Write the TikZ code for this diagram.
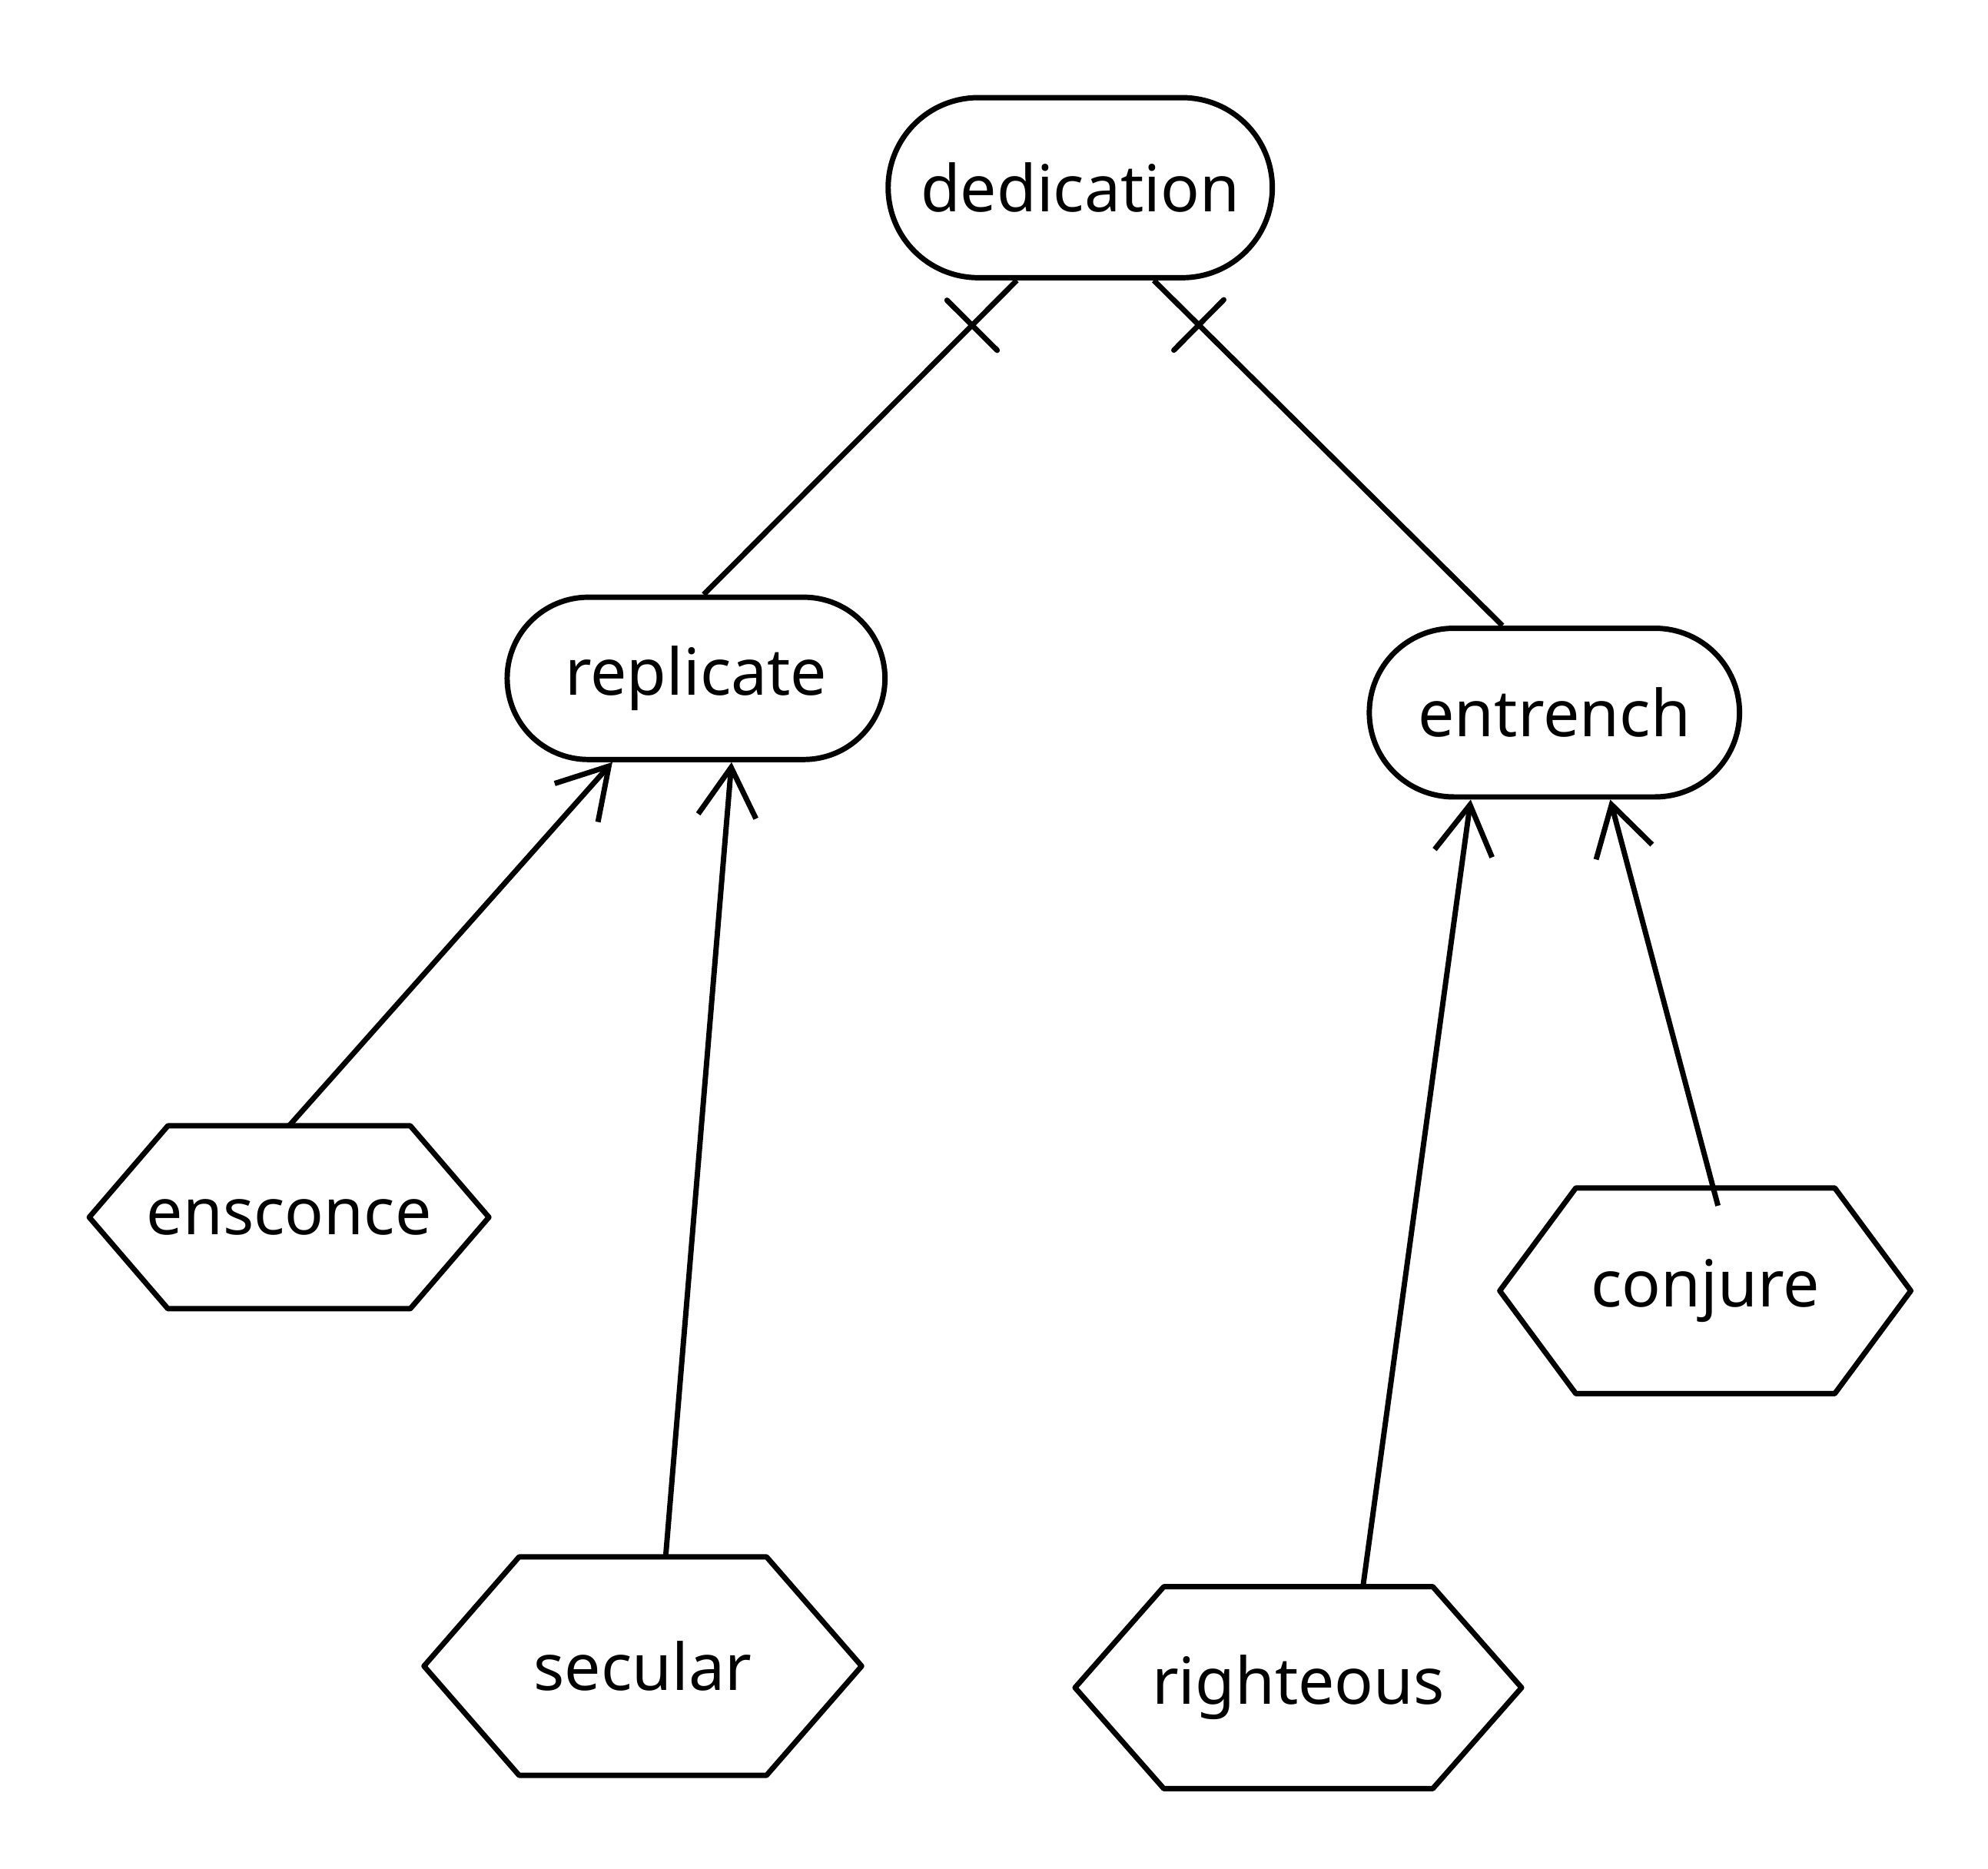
\documentclass[tikz,border=0pt]{standalone}
\usepackage{fontspec}
\setmainfont{Noto Sans}
\usetikzlibrary{shapes.misc,arrows.meta,calc}
\newcommand\hexdraw[2]{%
  \draw (#1.west) -- ([xshift=#2]#1.north west) -- ([xshift=-#2]#1.north east)
    -- (#1.east) -- ([xshift=-#2]#1.south east) -- ([xshift=#2]#1.south west) -- cycle;}
\begin{document}
\begin{tikzpicture}[line width=1.2pt, line join=round,
  lbl/.style={font=\fontsize{14.5}{17}\selectfont},
  rr/.style={rounded rectangle, draw, inner sep=0pt, lbl},
  hexa/.style={rectangle, inner sep=0pt, lbl},
  arr/.style={-{Straight Barb[length=11pt,width=13pt]}},
  tee/.style={line cap=round}]
\useasboundingbox (0,0) rectangle (15.68,-14.74);

\node[rr, minimum width=3.03cm, minimum height=1.42cm] (ded) at (8.52,-1.48) {dedication};
\node[rr, minimum width=2.98cm, minimum height=1.28cm] (rep) at (5.49,-5.35) {replicate};
\node[rr, minimum width=2.92cm, minimum height=1.33cm] (ent) at (12.26,-5.62) {entrench};

\node[hexa, minimum width=3.11cm, minimum height=1.40cm] (ens) at (2.28,-9.60) {ensconce};
\node[hexa, minimum width=3.41cm, minimum height=1.68cm] (sec) at (5.07,-13.14) {secular};
\node[hexa, minimum width=3.48cm, minimum height=1.55cm] (rig) at (10.24,-13.31) {righteous};
\node[hexa, minimum width=3.20cm, minimum height=1.58cm] (con) at (13.45,-10.18) {conjure};
\hexdraw{ens}{0.62cm}
\hexdraw{sec}{0.75cm}
\hexdraw{rig}{0.70cm}
\hexdraw{con}{0.60cm}

\draw[arr] (ens.north) -- ([xshift=-0.66cm]rep.south);
\draw[arr] ([xshift=0.18cm]sec.north) -- ([xshift=0.28cm]rep.south);
\draw[arr] ([xshift=0.51cm]rig.north) -- ([xshift=-0.66cm]ent.south);
\draw[arr] ([xshift=0.1cm,yshift=-0.14cm]con.north) -- ([xshift=0.44cm]ent.south);

\draw ([xshift=0.06cm]rep.north) coordinate (a1) -- ([xshift=-0.5cm]ded.south) coordinate (b1);
\coordinate (m1) at ($(b1)!0.5cm!(a1)$);
\draw[tee] ($(m1)!0.28cm!90:(b1)$) -- ($(m1)!0.28cm!-90:(b1)$);

\draw ([xshift=-0.41cm]ent.north) coordinate (a2) -- ([xshift=0.58cm]ded.south) coordinate (b2);
\coordinate (m2) at ($(b2)!0.5cm!(a2)$);
\draw[tee] ($(m2)!0.28cm!90:(b2)$) -- ($(m2)!0.28cm!-90:(b2)$);
\end{tikzpicture}
\end{document}
